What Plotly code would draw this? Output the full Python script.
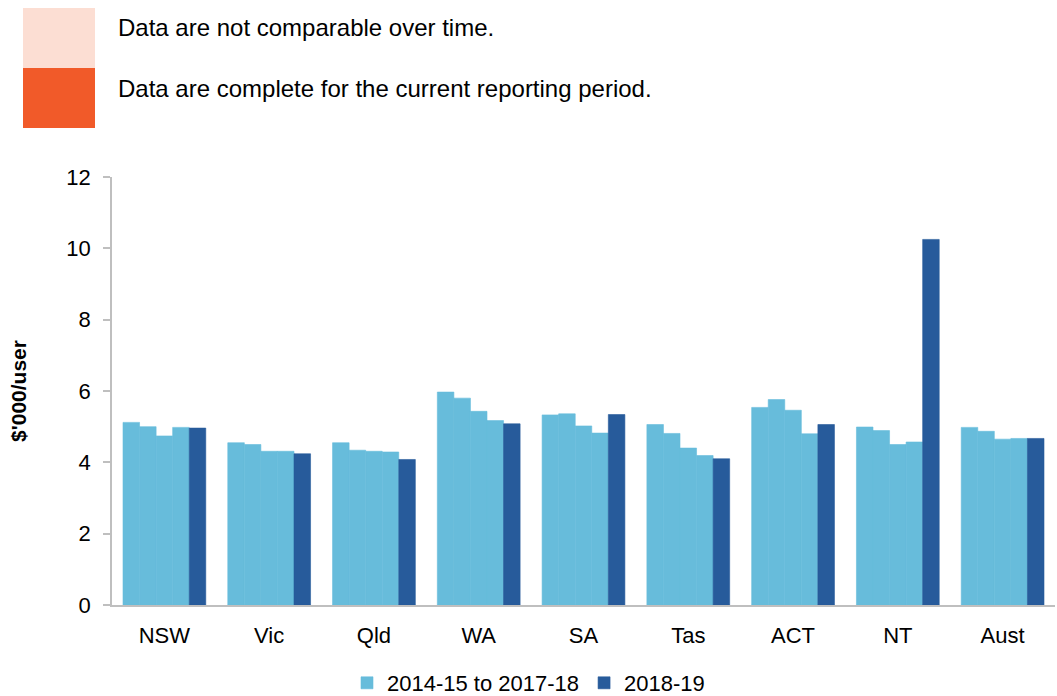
import plotly.graph_objects as go

# --- data ---
STATES = ["NSW", "Vic", "Qld", "WA", "SA", "Tas", "ACT", "NT", "Aust"]
Y2014_15 = [5.12, 4.55, 4.55, 5.97, 5.33, 5.06, 5.54, 4.99, 4.98]
Y2015_16 = [5.00, 4.50, 4.34, 5.80, 5.36, 4.81, 5.76, 4.89, 4.87]
Y2016_17 = [4.74, 4.31, 4.31, 5.43, 5.02, 4.40, 5.46, 4.50, 4.65]
Y2017_18 = [4.98, 4.31, 4.29, 5.17, 4.82, 4.19, 4.80, 4.57, 4.67]
Y2018_19 = [4.96, 4.24, 4.08, 5.08, 5.34, 4.10, 5.06, 10.25, 4.67]

PAST_NAME = "2014-15 to 2017-18"
CURRENT_NAME = "2018-19"
Y_TICKS = [0, 2, 4, 6, 8, 10, 12]

# --- styling ---
LIGHT = "#67bcdb"
DARK = "#275b9b"
AXIS = "#bfbfbf"
TEXT = "#000000"
FONT = "Liberation Sans, Arial, sans-serif"
PALE_BOX = "#fcded3"
ORANGE_BOX = "#f15a29"

fig = go.Figure()

for i, vals in enumerate([Y2014_15, Y2015_16, Y2016_17, Y2017_18]):
    fig.add_trace(
        go.Bar(
            x=STATES,
            y=vals,
            name=PAST_NAME,
            legendgroup="past",
            showlegend=(i == 0),
            marker=dict(color=LIGHT, line=dict(width=0.6, color=LIGHT)),
        )
    )
fig.add_trace(
    go.Bar(
        x=STATES,
        y=Y2018_19,
        name=CURRENT_NAME,
        legendgroup="current",
        marker=dict(color=DARK, line=dict(width=0.6, color=DARK)),
    )
)

# plot area in pixels: x 112..1055, y 177..605
L, R, T, B = 112, 1055, 177, 605


def px_x(x):
    return (x - L) / (R - L)


def px_y(y):
    return (B - y) / (B - T)


# data-quality key at the top
for y0, y1, col in ((8, 68, PALE_BOX), (68, 128, ORANGE_BOX)):
    fig.add_shape(
        type="rect",
        xref="paper",
        yref="paper",
        x0=px_x(23),
        x1=px_x(95),
        y0=px_y(y1),
        y1=px_y(y0),
        fillcolor=col,
        line=dict(width=0),
        layer="above",
    )
for yc, txt in ((27, "Data are not comparable over time."),
                (88, "Data are complete for the current reporting period.")):
    fig.add_annotation(
        xref="paper",
        yref="paper",
        x=px_x(116),
        y=px_y(yc),
        xanchor="left",
        yanchor="middle",
        text=txt,
        showarrow=False,
        font=dict(family=FONT, size=24, color=TEXT),
    )

fig.update_layout(
    barmode="group",
    bargap=0.21,
    bargroupgap=0,
    width=1057,
    height=696,
    paper_bgcolor="white",
    plot_bgcolor="white",
    font=dict(family=FONT, size=22, color=TEXT),
    margin=dict(l=L, r=1057 - R, t=T, b=696 - B),
    showlegend=True,
    legend=dict(
        orientation="h",
        xref="container",
        yref="container",
        x=0.5,
        xanchor="center",
        y=1 - 683 / 696,
        yanchor="middle",
        font=dict(family=FONT, size=22, color=TEXT),
        itemwidth=30,
        tracegroupgap=0,
    ),
)
fig.update_xaxes(
    showline=True,
    linecolor=AXIS,
    linewidth=1.5,
    showgrid=False,
    ticks="",
    ticklabelstandoff=10,
    tickfont=dict(family=FONT, size=22, color=TEXT),
)
fig.update_yaxes(
    range=[0, 12],
    tickvals=Y_TICKS,
    showline=True,
    linecolor=AXIS,
    linewidth=1.5,
    showgrid=False,
    zeroline=False,
    ticks="outside",
    ticklen=7,
    tickcolor=AXIS,
    tickwidth=1.5,
    ticklabelstandoff=8,
    tickfont=dict(family=FONT, size=22, color=TEXT),
    title=dict(
        text="<b>$'000/user</b>",
        font=dict(family=FONT, size=21, color=TEXT),
        standoff=34,
    ),
)

# the page body has a default 8px margin; drop it so the figure fills the window
fig.write_html(
    "out.html",
    config={"displayModeBar": False},
    post_script="document.body.style.margin='0';",
)
